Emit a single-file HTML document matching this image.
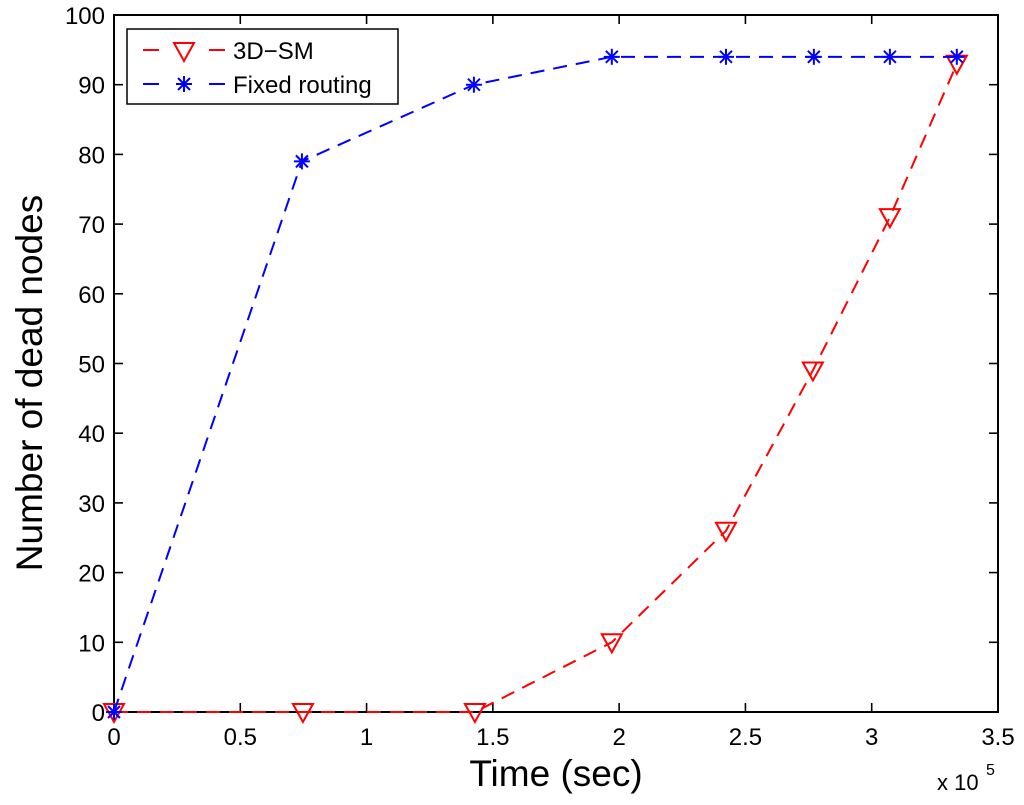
<!DOCTYPE html>
<html><head><meta charset="utf-8"><style>
body{margin:0;background:#fff}
svg{display:block;font-family:"Liberation Sans",Arial,sans-serif}
</style></head><body>
<svg id="chart" width="1024" height="805">
</svg>
<script>
const xTicks=[0,0.5,1,1.5,2,2.5,3,3.5];
const xTickLabels=["0","0.5","1","1.5","2","2.5","3","3.5"];
const yTicks=[0,10,20,30,40,50,60,70,80,90,100];
const smX=[0,0.748,1.429,1.971,2.423,2.767,3.072,3.337];
const smY=[0,0,0,10,26,49,71,93];
const frX=[0,0.744,1.425,1.971,2.423,2.771,3.072,3.337];
const frY=[0,79,90,94,94,94,94,94];
const L=114,R=998,T=15,B=712;
const sx=v=>L+v/3.5*(R-L), sy=v=>B-v/100*(B-T);
const svg=document.getElementById('chart');
const NS='http://www.w3.org/2000/svg';
function mk(tag,attrs,parent){const e=document.createElementNS(NS,tag);for(const k in attrs)e.setAttribute(k,attrs[k]);(parent||svg).appendChild(e);return e;}
let box=mk('rect',{x:L,y:T,width:R-L,height:B-T,fill:'none',stroke:'#000','stroke-width':2});


xTicks.forEach((v,i)=>{
  const x=sx(v);
  mk('line',{x1:x,x2:x,y1:B,y2:B-9,stroke:'#000','stroke-width':1.6});
  mk('line',{x1:x,x2:x,y1:T,y2:T+9,stroke:'#000','stroke-width':1.6});
  const t=mk('text',{x:x,y:B+33,'font-size':24,'text-anchor':'middle'});t.textContent=xTickLabels[i];
  
  
});
yTicks.forEach(v=>{
  const y=sy(v);
  mk('line',{x1:L,x2:L+9,y1:y,y2:y,stroke:'#000','stroke-width':1.6});
  mk('line',{x1:R,x2:R-9,y1:y,y2:y,stroke:'#000','stroke-width':1.6});
  const t=mk('text',{x:L-9,y:y+9,'font-size':24,'text-anchor':'end'});t.textContent=v;
  
  
});
function tri(x,y,c,p){return mk('path',{d:`M${x-10},${y-8}L${x+10},${y-8}L${x},${y+10}Z`,fill:'none',stroke:c,'stroke-width':2},p);}
function star(x,y,c,p){const g=mk('g',{stroke:c,'stroke-width':2},p);
  mk('line',{x1:x-8,x2:x+8,y1:y,y2:y},g);mk('line',{x1:x,x2:x,y1:y-8,y2:y+8},g);
  mk('line',{x1:x-6,x2:x+6,y1:y-6,y2:y+6},g);mk('line',{x1:x-6,x2:x+6,y1:y+6,y2:y-6},g);return g;}
function series(xs,ys,c,m,name){
  const g=mk('g',{});
  
  
  mk('polyline',{points:xs.map((v,i)=>sx(v)+','+sy(ys[i])).join(' '),fill:'none',stroke:c,'stroke-width':2,'stroke-dasharray':'14,9'},g);
  xs.forEach((v,i)=>m(sx(v),sy(ys[i]),c,g));
}
series(smX,smY,'#f00',tri,'series-3d-sm');
series(frX,frY,'#00f',star,'series-fixed-routing');
const lg=mk('g',{});


mk('rect',{x:127,y:29,width:271,height:75,fill:'#fff',stroke:'#000','stroke-width':1.5},lg);
mk('line',{x1:143,x2:225,y1:50,y2:50,stroke:'#f00','stroke-width':2,'stroke-dasharray':'16,50'},lg);
tri(184,51,'#f00',lg);
mk('line',{x1:143,x2:225,y1:84,y2:84,stroke:'#00f','stroke-width':2,'stroke-dasharray':'16,50'},lg);
star(184,84,'#00f',lg);
let t=mk('text',{x:233,y:59,'font-size':24},lg);t.textContent='3D\u2212SM';


t=mk('text',{x:233,y:93,'font-size':24},lg);t.textContent='Fixed routing';


t=mk('text',{x:556,y:786,'font-size':37,'text-anchor':'middle'});t.textContent='Time (sec)';


t=mk('text',{x:0,y:0,'font-size':37,'text-anchor':'middle',transform:'translate(42,383) rotate(-90)'});t.textContent='Number of dead nodes';


t=mk('text',{x:937,y:790,'font-size':22});t.textContent='x 10';


t=mk('text',{x:986,y:775,'font-size':16});t.textContent='5';


</script>
</body></html>
